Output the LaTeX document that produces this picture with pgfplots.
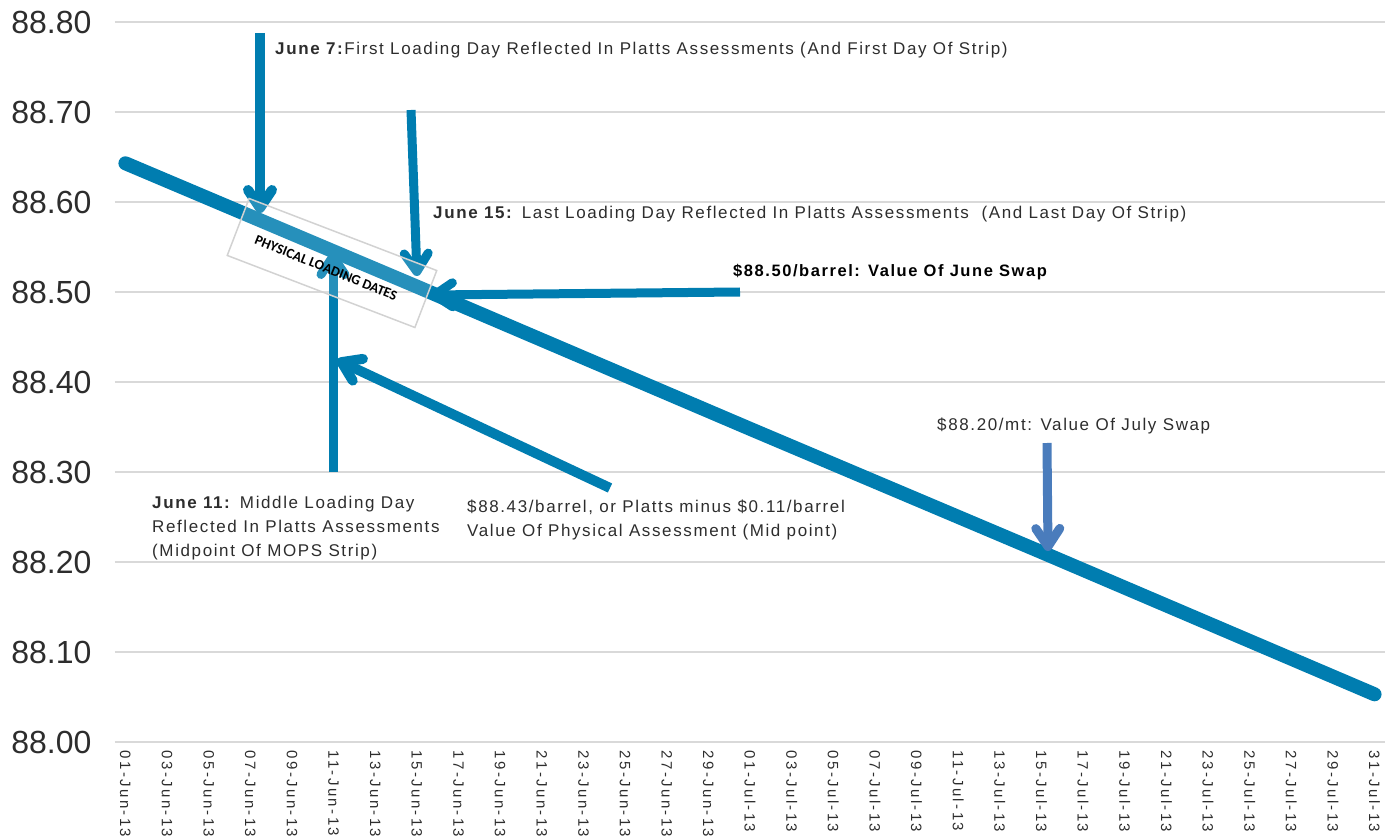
\documentclass[border=0pt]{standalone}
\usepackage{pgfplots}
\pgfplotsset{compat=1.18}
\usepackage{fontspec}
\setmainfont{Liberation Sans}
\newfontfamily\annfont{Liberation Sans}[LetterSpace=9.5]
\newfontfamily\tickfont{Liberation Sans}[LetterSpace=16]
\newfontfamily\boxfont{Carlito}
\usetikzlibrary{arrows.meta}
\definecolor{lineblue}{RGB}{0,125,176}
\definecolor{julyblue}{RGB}{74,124,188}
\definecolor{gridgray}{RGB}{217,217,217}
\definecolor{txt}{RGB}{45,45,45}
\begin{document}
\begin{tikzpicture}
\begin{axis}[
  at={(0pt,0pt)}, anchor=south west,
  scale only axis, width=1270pt, height=720pt,
  xmin=-0.5, xmax=60.5, ymin=88, ymax=88.8,
  axis line style={draw=none},
  major tick length=0pt,
  ytick={88.0,88.1,88.2,88.3,88.4,88.5,88.6,88.7,88.8},
  ymajorgrids, major grid style={draw=gridgray, line width=2pt},
  xtick={0,2,...,60},
  xticklabels={01-Jun-13,03-Jun-13,05-Jun-13,07-Jun-13,09-Jun-13,11-Jun-13,13-Jun-13,15-Jun-13,17-Jun-13,19-Jun-13,21-Jun-13,23-Jun-13,25-Jun-13,27-Jun-13,29-Jun-13,01-Jul-13,03-Jul-13,05-Jul-13,07-Jul-13,09-Jul-13,11-Jul-13,13-Jul-13,15-Jul-13,17-Jul-13,19-Jul-13,21-Jul-13,23-Jul-13,25-Jul-13,27-Jul-13,29-Jul-13,31-Jul-13},
  xticklabel style={rotate=-90, anchor=west, font=\tickfont\fontsize{15}{17}\selectfont, color=txt, xshift=5pt},
  yticklabel style={font=\fontsize{32}{38}\selectfont, color=txt, xshift=-20pt,
    /pgf/number format/.cd, fixed, fixed zerofill, precision=2},
  /pgf/number format/assume math mode=true,
  clip=false,
]
\addplot[draw=lineblue, line width=14pt, line cap=round] table {
x y
0 88.643
14 88.506
30 88.348
44 88.211
60 88.053
};
\end{axis}
\begin{scope}[x=1pt, y=-1pt, shift={(-115pt,742pt)}]
\tikzset{ann/.style={draw=lineblue, line width=10pt, -{Straight Barb[length=18pt,width=24pt,round]}}}
\draw[ann] (260,33) -- (260,213);
\draw[ann, line width=9pt] (411,110) -- (417,276);
\draw[ann, line width=9pt] (333,472) -- (333,252);
\draw[ann, line width=9pt] (740,292) -- (430,295);
\draw[ann] (610,488) -- (337,360);
\draw[ann, draw=julyblue, line width=9pt] (1047,443) -- (1048,551);
\node[draw=gray!35, line width=1.5pt, fill=white, fill opacity=0.15, draw opacity=1, minimum width=201pt, minimum height=61pt, rotate=-21] at (332,263) {};
\node[rotate=-22, font=\boxfont\bfseries\fontsize{14}{16}\selectfont, text=black] at (326,268) {PHYSICAL LOADING DATES};
\tikzset{lab/.style={anchor=base west, text=txt, font=\annfont\fontsize{17}{20}\selectfont, inner sep=0pt}}
\node[lab] at (275,55) {\textbf{June 7:}First Loading Day Reflected In Platts Assessments (And First Day Of Strip)};
\node[lab] at (433,219) {\textbf{June 15:} Last Loading Day Reflected In Platts Assessments\ \ (And Last Day Of Strip)};
\node[lab, text=black, font=\annfont\fontsize{16.5}{20}\selectfont] at (733,277) {\textbf{\$88.50/barrel: Value Of June Swap}};
\node[lab] at (937,430) {\$88.20/mt: Value Of July Swap};
\node[lab] at (152,508) {\textbf{June 11:} Middle Loading Day};
\node[lab] at (152,532) {Reflected In Platts Assessments};
\node[lab] at (152,556) {(Midpoint Of MOPS Strip)};
\node[lab] at (467,512) {\$88.43/barrel, or Platts minus \$0.11/barrel};
\node[lab] at (467,536) {Value Of Physical Assessment (Mid point)};
\end{scope}
\pgfresetboundingbox
\path[use as bounding box] (-115pt,-97pt) rectangle (1282pt,742pt);
\end{tikzpicture}
\end{document}
